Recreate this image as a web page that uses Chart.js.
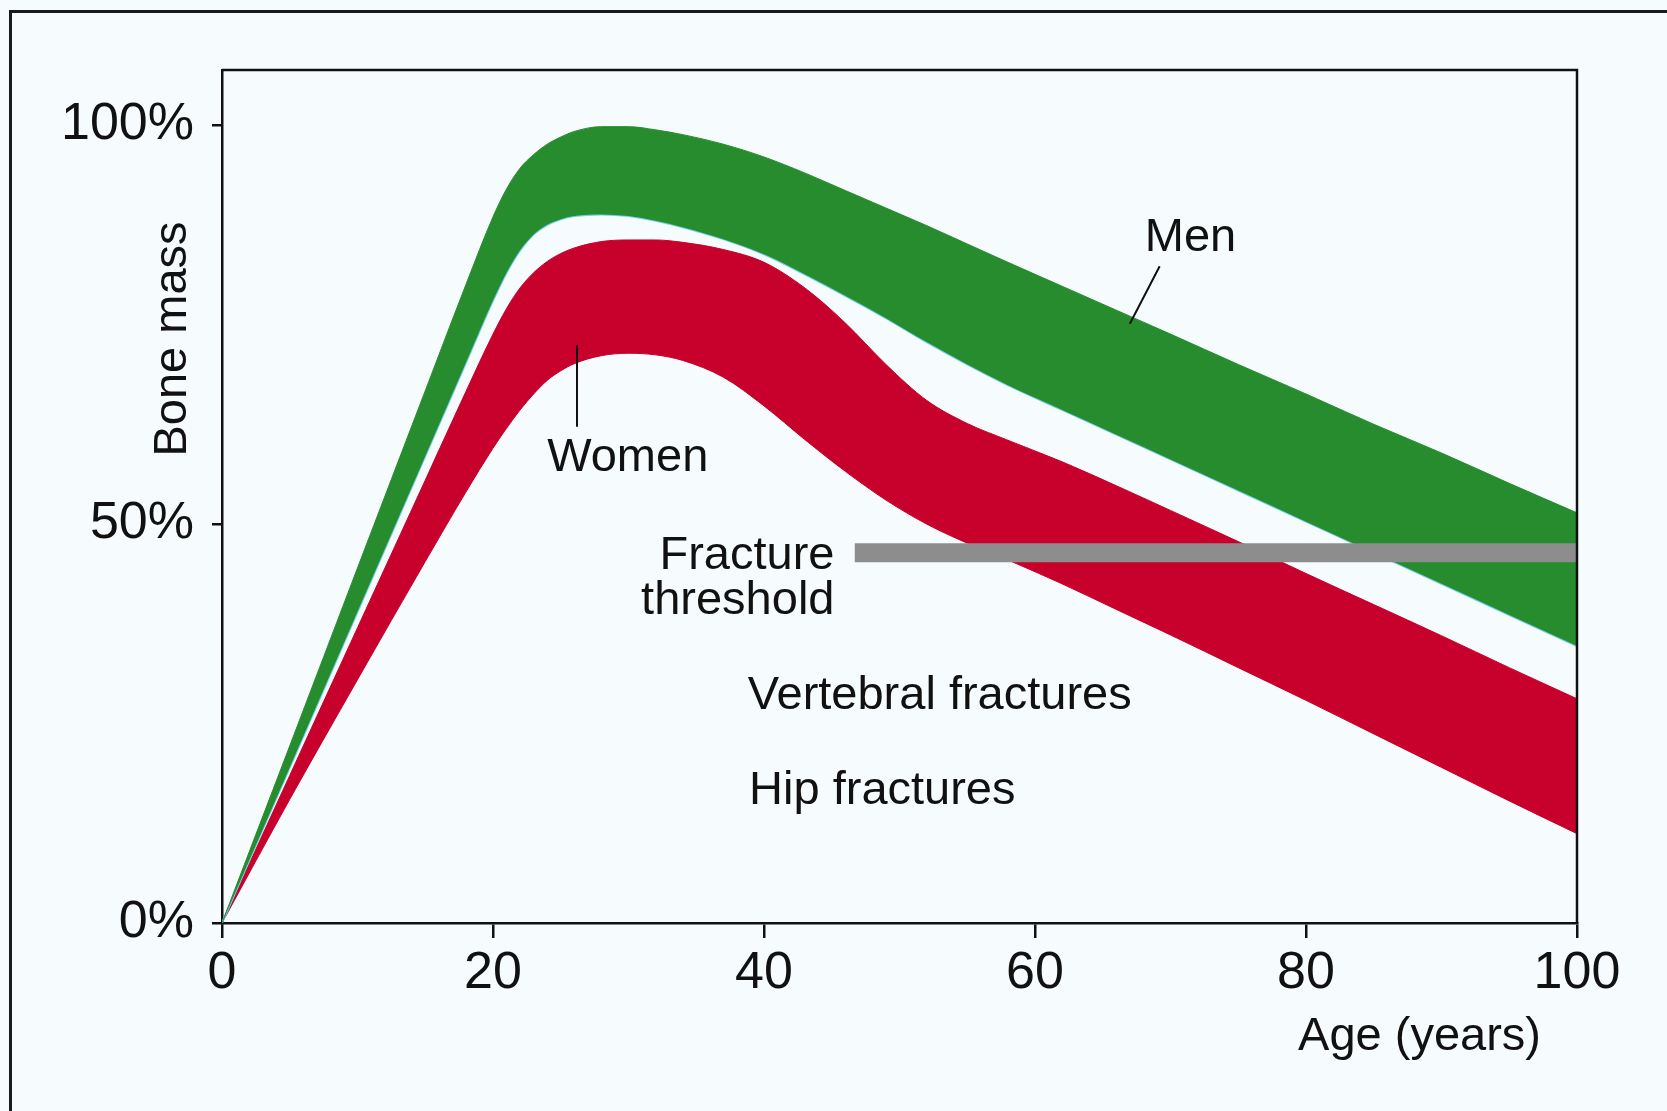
<!DOCTYPE html>
<html>
<head>
<meta charset="utf-8">
<script src="https://cdn.jsdelivr.net/npm/chart.js@4.4.1/dist/chart.umd.min.js"></script>
<style>
  html, body { margin: 0; padding: 0; background: #f6fcfd; }
  #wrap { position: relative; width: 1667px; height: 1111px; overflow: hidden; }
  #frame { position: absolute; left: 9px; top: 10px; width: 1700px; height: 1200px;
           border-left: 3px solid #1a1a1a; border-top: 3px solid #1a1a1a; }
  canvas { position: absolute; left: 0; top: 0; }
</style>
</head>
<body>
<div id="wrap">
  <div id="frame"></div>
  <canvas id="boneChart" width="1667" height="1111"></canvas>
</div>
<script>
// Bone mass (% of peak) by age
const ages = [0, 5, 10, 15, 18, 20, 21, 22, 23, 24, 25, 26, 28, 30, 32, 34, 37, 40, 43, 46, 49, 52, 55, 58, 62, 66, 70, 75, 80, 85, 90, 95, 100];

const menUpper = [0, 22.2, 44.5, 66.7, 80, 88.5, 92, 94.6, 96.3, 97.6, 98.5, 99.2, 99.8, 99.8, 99.4, 98.8, 97.6, 96, 94, 91.8, 89.6, 87.4, 85.1, 82.8, 79.8, 76.8, 73.8, 70.0, 66.3, 62.5, 58.9, 55.1, 51.4];
const menLower = [0, 19.5, 39, 58.5, 70.2, 78, 81.5, 84.3, 86.3, 87.5, 88.2, 88.6, 88.8, 88.6, 88, 87.2, 85.7, 83.8, 81.3, 78.6, 75.8, 72.8, 70, 67.4, 64.3, 61.2, 58.1, 54.2, 50.3, 46.4, 42.5, 38.6, 34.7];

const womenUpper = [0, 18.5, 37, 55.5, 66.6, 73.8, 77, 79.6, 81.5, 82.9, 83.9, 84.6, 85.4, 85.6, 85.6, 85.3, 84.4, 82.8, 79.6, 75.2, 70, 65.5, 62.6, 60.5, 57.8, 54.8, 51.7, 47.8, 43.8, 39.9, 36.0, 32.0, 28.1];
const womenLower = [0, 15.5, 30.5, 45.3, 54, 59.5, 62, 64.3, 66.3, 68, 69.2, 70.1, 71.1, 71.4, 71.2, 70.5, 68.4, 64.8, 60.6, 56.6, 53, 50, 47.6, 45.5, 42.5, 39.3, 36.1, 32, 27.9, 23.7, 19.5, 15.3, 11.2];

const thresholdAges = [46.7, 100];
const thresholdValue = 46.4;

const yTicks = [0, 50, 100];
const xTicks = [0, 20, 40, 60, 80, 100];

const GREEN = '#268c2e';
const RED = '#c8002c';
const INK = '#111';
const FONT = "'Liberation Sans', Arial, Helvetica, sans-serif";

function pts(values) {
    return ages.map((a, i) => ({ x: a, y: values[i] }));
}

// Text labels and pointer lines (in data units), plus the axis titles and plot box
const notesPlugin = {
    id: 'notes',
    afterDatasetsDraw(chart) {
        const { ctx, chartArea, scales: { x, y } } = chart;
        const px = v => x.getPixelForValue(v);
        const py = v => y.getPixelForValue(v);
        ctx.save();

        // top and right sides of the plot box
        ctx.strokeStyle = INK;
        ctx.lineWidth = 2.5;
        ctx.beginPath();
        ctx.moveTo(chartArea.left, chartArea.top);
        ctx.lineTo(chartArea.right, chartArea.top);
        ctx.lineTo(chartArea.right, chartArea.bottom);
        ctx.stroke();

        // pointers
        ctx.lineWidth = 2;
        ctx.beginPath();
        ctx.moveTo(px(69.2), py(82.3));
        ctx.lineTo(px(67.0), py(75.1));
        ctx.moveTo(px(26.2), py(72.4));
        ctx.lineTo(px(26.2), py(62.2));
        ctx.stroke();

        ctx.fillStyle = INK;
        ctx.font = '47px ' + FONT;
        ctx.textBaseline = 'alphabetic';
        ctx.textAlign = 'left';
        ctx.fillText('Men', px(68.1), py(84.2));
        ctx.fillText('Women', px(24.0), py(56.6));
        ctx.fillText('Vertebral fractures', px(38.8), py(26.8));
        ctx.fillText('Hip fractures', px(38.9), py(14.9));
        ctx.textAlign = 'right';
        ctx.fillText('Fracture', px(45.2), py(44.4));
        ctx.fillText('threshold', px(45.2), py(38.7));

        // axis titles
        ctx.fillText('Age (years)', chartArea.right - 36, chartArea.bottom + 127);
        ctx.translate(chartArea.left - 36, chartArea.top + 269);
        ctx.rotate(-Math.PI / 2);
        ctx.textAlign = 'center';
        ctx.fillText('Bone mass', 0, 0);

        ctx.restore();
    }
};

const ctx = document.getElementById('boneChart').getContext('2d');

new Chart(ctx, {
    type: 'line',
    data: {
        datasets: [
            {
                label: 'Fracture threshold',
                data: thresholdAges.map(a => ({ x: a, y: thresholdValue })),
                borderColor: '#8d8d8d',
                borderWidth: 19,
                borderCapStyle: 'butt',
                pointRadius: 0,
                fill: false
            },
            {
                label: 'Men',
                data: pts(menUpper),
                borderColor: GREEN,
                backgroundColor: GREEN,
                borderWidth: 1,
                pointRadius: 0,
                cubicInterpolationMode: 'monotone',
                fill: '+1'
            },
            {
                label: 'Men (low)',
                data: pts(menLower),
                borderColor: '#6fd0e8',
                borderWidth: 2,
                pointRadius: 0,
                cubicInterpolationMode: 'monotone',
                fill: false
            },
            {
                label: 'Women',
                data: pts(womenUpper),
                borderColor: RED,
                backgroundColor: RED,
                borderWidth: 1,
                pointRadius: 0,
                cubicInterpolationMode: 'monotone',
                fill: '+1'
            },
            {
                label: 'Women (low)',
                data: pts(womenLower),
                borderColor: RED,
                borderWidth: 1,
                pointRadius: 0,
                cubicInterpolationMode: 'monotone',
                fill: false
            }
        ]
    },
    options: {
        responsive: false,
        animation: false,
        layout: { padding: { top: 70, right: 90, left: 0, bottom: 0 } },
        plugins: {
            legend: { display: false },
            tooltip: { enabled: false }
        },
        scales: {
            x: {
                type: 'linear',
                min: 0,
                max: 100,
                afterBuildTicks: scale => { scale.ticks = xTicks.map(v => ({ value: v })); },
                afterFit: scale => { scale.height = 188; },
                ticks: {
                    color: INK,
                    font: { size: 52, family: FONT },
                    padding: 4,
                    maxRotation: 0
                },
                grid: { drawOnChartArea: false, drawTicks: true, tickLength: 15, color: INK, lineWidth: 2.5 },
                border: { display: true, color: INK, width: 2.5 }
            },
            y: {
                type: 'linear',
                min: 0,
                max: 106.9,
                afterBuildTicks: scale => { scale.ticks = yTicks.map(v => ({ value: v })); },
                afterFit: scale => { scale.width = 222; },
                ticks: {
                    color: INK,
                    font: { size: 52, family: FONT },
                    padding: 18,
                    callback: v => v + '%'
                },
                grid: { drawOnChartArea: false, drawTicks: true, tickLength: 10, color: INK, lineWidth: 2.5 },
                border: { display: true, color: INK, width: 2.5 }
            }
        }
    },
    plugins: [notesPlugin]
});
</script>
</body>
</html>
